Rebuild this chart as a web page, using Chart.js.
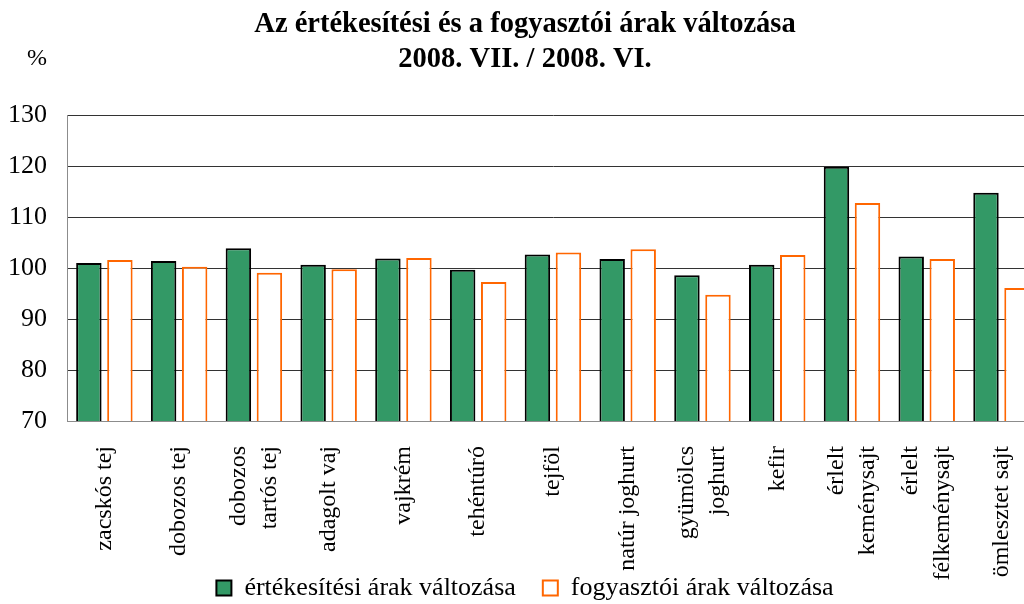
<!DOCTYPE html>
<html>
<head>
<meta charset="utf-8">
<script src="https://cdn.jsdelivr.net/npm/chart.js@4"></script>
<style>
  html, body { margin: 0; padding: 0; background: #fff; overflow: hidden; }
  #wrap { width: 1024px; height: 604px; overflow: hidden; }
  canvas { display: block; }
</style>
</head>
<body>
<div id="wrap"><canvas id="c" width="1050" height="604" style="width:1050px;height:604px"></canvas></div>
<script>
// ── Data ──
var CATEGORIES = [
  'zacskós tej', 'dobozos tej', ['dobozos', 'tartós tej'], 'adagolt vaj',
  'vajkrém', 'tehéntúró', 'tejföl', 'natúr joghurt', ['gyümölcs', 'joghurt'],
  'kefir', ['érlelt', 'keménysajt'], ['érlelt', 'félkeménysajt'], 'ömlesztet sajt'
];
var SALES_CHANGE    = [101.0, 101.4, 103.9, 100.7, 101.9, 99.7, 102.7, 101.8, 98.6, 100.7, 119.9, 102.3, 114.8];
var CONSUMER_CHANGE = [101.6, 100.3, 99.1, 99.8, 102.0, 97.3, 103.1, 103.7, 94.8, 102.6, 112.8, 101.8, 96.1];
var SERIES_NAMES = ['értékesítési árak változása', 'fogyasztói árak változása'];
var TITLE_LINES = ['Az értékesítési és a fogyasztói árak változása', '2008. VII. / 2008. VI.'];
var Y_UNIT = '%';

var SERIF = "'Liberation Serif', 'Times New Roman', serif";
var COLORS = {
  sales:    '#339966',
  consumer: '#ff6600',
  grid:     '#333333',
  axis:     '#8c8c8c',
  text:     '#000000'
};

// centre multi-line rotated category labels on their tick,
// and let the long labels run below the axis box (as in the original)
var categoryLabels = {
  id: 'categoryLabels',
  beforeDraw: function (chart) {
    var scale = chart.scales.x;
    scale._computeLabelArea = function () { return undefined; };
    var items = scale.getLabelItems(chart.chartArea);
    for (var i = 0; i < items.length; i++) {
      var it = items[i];
      if (Array.isArray(it.label) && it.label.length > 1 && !it._shifted) {
        it.options.translation[0] -= (it.label.length - 1) * it.font.lineHeight / 2;
        it._shifted = true;
      }
    }
  }
};

// unit label above the y axis
var unitLabel = {
  id: 'unitLabel',
  afterDraw: function (chart) {
    var ctx = chart.ctx;
    var area = chart.chartArea;
    ctx.save();
    ctx.font = '24px ' + SERIF;
    ctx.fillStyle = COLORS.text;
    ctx.textAlign = 'center';
    ctx.textBaseline = 'middle';
    ctx.fillText(Y_UNIT, area.left - 30, area.top - 57);
    ctx.restore();
  }
};

new Chart(document.getElementById('c').getContext('2d'), {
  type: 'bar',
  data: {
    labels: CATEGORIES,
    datasets: [
      {
        label: SERIES_NAMES[0],
        data: SALES_CHANGE,
        backgroundColor: COLORS.sales,
        borderColor: '#000000',
        borderWidth: 2,
        borderSkipped: false,
        categoryPercentage: 0.83,
        barPercentage: 0.82
      },
      {
        label: SERIES_NAMES[1],
        data: CONSUMER_CHANGE,
        backgroundColor: '#ffffff',
        borderColor: COLORS.consumer,
        borderWidth: 2,
        borderSkipped: false,
        categoryPercentage: 0.83,
        barPercentage: 0.82
      }
    ]
  },
  options: {
    responsive: false,
    animation: false,
    layout: { padding: { left: 8, right: 8, top: 0, bottom: 0 } },
    plugins: {
      title: {
        display: true,
        text: TITLE_LINES,
        color: COLORS.text,
        font: { family: SERIF, size: 28.5, weight: 'bold', lineHeight: 1.2 },
        padding: { top: 8, bottom: 39 }
      },
      legend: {
        position: 'bottom',
        maxHeight: 56,
        labels: {
          color: COLORS.text,
          font: { family: SERIF, size: 26 },
          boxWidth: 15,
          boxHeight: 15,
          padding: 27
        }
      },
      tooltip: { enabled: false }
    },
    scales: {
      x: {
        grid: { display: false },
        border: { display: true, color: COLORS.axis, width: 1 },
        afterFit: function (scale) { scale.height = 127; },
        ticks: {
          color: COLORS.text,
          font: { family: SERIF, size: 24, lineHeight: 1.3 },
          minRotation: 90,
          maxRotation: 90,
          autoSkip: false,
          padding: 17
        }
      },
      y: {
        min: 70,
        max: 130,
        grid: { color: COLORS.grid, lineWidth: 1, drawTicks: false },
        border: { display: true, color: COLORS.axis, width: 1 },
        afterFit: function (scale) { scale.width = 59; },
        ticks: {
          stepSize: 10,
          color: COLORS.text,
          font: { family: SERIF, size: 26 },
          padding: 20
        }
      }
    }
  },
  plugins: [categoryLabels, unitLabel]
});
</script>
</body>
</html>
